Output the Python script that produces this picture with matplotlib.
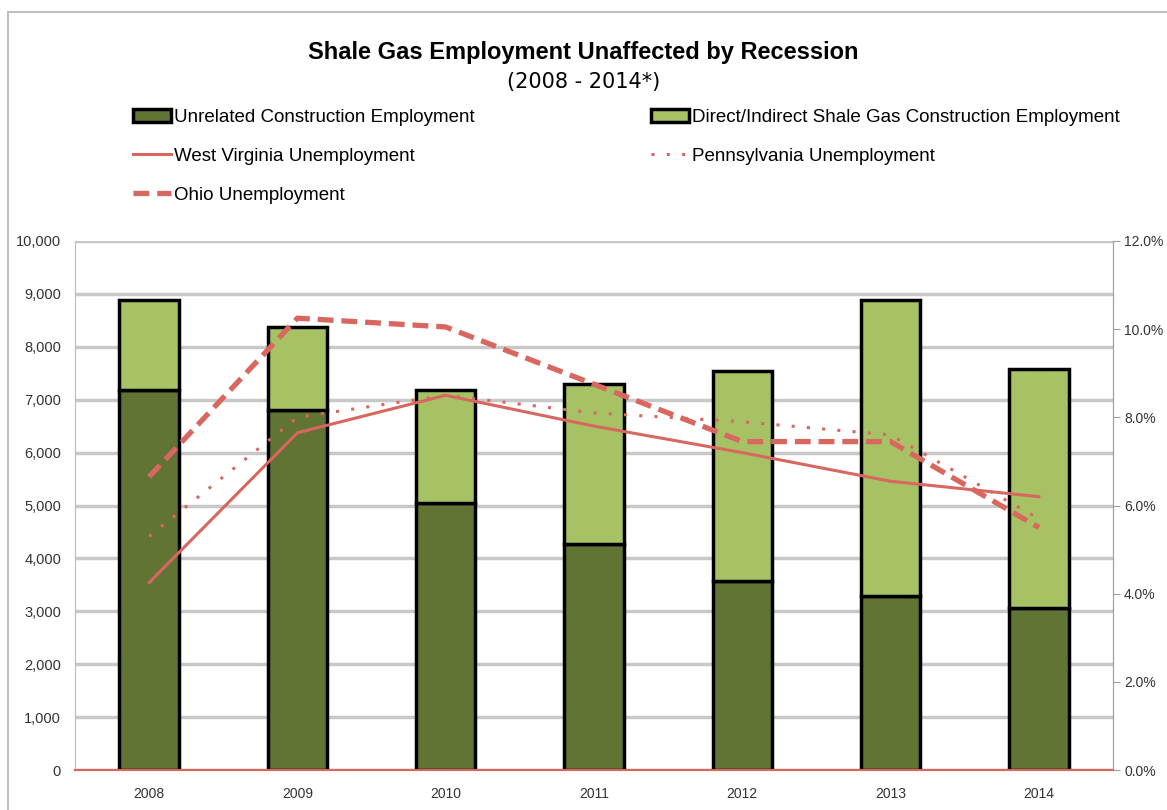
import matplotlib.pyplot as plt
import numpy as np
from matplotlib.patches import Rectangle
from matplotlib.ticker import FuncFormatter

years = ["2008", "2009", "2010", "2011", "2012", "2013", "2014"]
unrelated = [7180, 6800, 5050, 4280, 3580, 3290, 3060]
shale_total = [8880, 8370, 7180, 7300, 7550, 8890, 7580]
shale = [t - u for t, u in zip(shale_total, unrelated)]

wv_unemp = [4.25, 7.65, 8.5, 7.8, 7.2, 6.55, 6.2]
pa_unemp = [5.3, 8.0, 8.5, 8.1, 7.9, 7.6, 5.7]
oh_unemp = [6.65, 10.25, 10.05, 8.75, 7.45, 7.45, 5.5]

dark_green = "#617433"
light_green = "#A7C264"
red = "#D8675F"
plt.rcParams["font.family"] = ["Liberation Sans", "DejaVu Sans"]

fig = plt.figure(figsize=(11.67, 8.1), dpi=100)
ax = fig.add_axes([75 / 1167, 1 - 770 / 810, (1113 - 75) / 1167, (770 - 241) / 810])
ax2 = ax.twinx()

x = np.arange(len(years))
w = 0.4
b1 = ax.bar(x, unrelated, w, color=dark_green, edgecolor="black", linewidth=2.5, zorder=3,
            label="Unrelated Construction Employment")
b2 = ax.bar(x, shale, w, bottom=unrelated, color=light_green, edgecolor="black", linewidth=2.5,
            zorder=3, label="Direct/Indirect Shale Gas Construction Employment")

ax.set_xlim(-0.5, len(years) - 0.5)
ax.set_ylim(0, 10000)
ax.set_yticks(np.arange(0, 10001, 1000))
ax.yaxis.set_major_formatter(FuncFormatter(lambda v, p: f"{int(v):,}"))
ax.set_xticks(x)
ax.set_xticklabels(years)
ax.grid(axis="y", color="#C8C8C8", linewidth=2.5, zorder=0)
ax.set_axisbelow(True)
ax.tick_params(axis="both", length=0, labelsize=10.5, colors="#333333", pad=10)
ax.tick_params(axis="x", labelsize=10, pad=12)

l1, = ax2.plot(x, wv_unemp, color=red, lw=2.2, label="West Virginia Unemployment", zorder=4)
l2, = ax2.plot(x, pa_unemp, color=red, lw=2.2, linestyle=(0, (1, 4)), label="Pennsylvania Unemployment", zorder=4)
l3, = ax2.plot(x, oh_unemp, color=red, lw=3.8, linestyle=(0, (3, 1.5)), label="Ohio Unemployment", zorder=4)
ax2.set_ylim(0, 12)
ax2.set_yticks(np.arange(0, 12.1, 2))
ax2.yaxis.set_major_formatter(FuncFormatter(lambda v, p: f"{v:.1f}%"))
ax2.tick_params(axis="y", length=5, color="#A0A0A0", labelsize=10, labelcolor="#333333", pad=3)

for a in (ax, ax2):
    a.spines["top"].set_visible(False)
    a.spines["left"].set_color("#BFBFBF")
    a.spines["right"].set_color("#A0A0A0")
    a.spines["bottom"].set_color(red)
    a.spines["bottom"].set_linewidth(1.5)

fig.text(0.5, 1 - 52 / 810, "Shale Gas Employment Unaffected by Recession", ha="center", va="center",
         fontsize=17, fontweight="bold")
fig.text(0.5, 1 - 82 / 810, "(2008 - 2014*)", ha="center", va="center", fontsize=15,
         family=["DejaVu Sans"])

handles = [b1, l1, l3, b2, l2]
labels = [h.get_label() for h in handles]
fig.legend(handles, labels, ncol=2, loc="upper left", bbox_to_anchor=(120 / 1167, 1 - 96 / 810),
           frameon=False, fontsize=13.5, handlelength=2.0, handletextpad=0.2, columnspacing=9.4,
           labelspacing=1.15, borderpad=0.2)

fig.patches.append(Rectangle((8 / 1167, -0.1), 1.2, 1 - 12 / 810 + 0.1, transform=fig.transFigure,
                             fill=False, edgecolor="#BFBFBF", linewidth=1.5))

fig.savefig("out.png", dpi=100)
